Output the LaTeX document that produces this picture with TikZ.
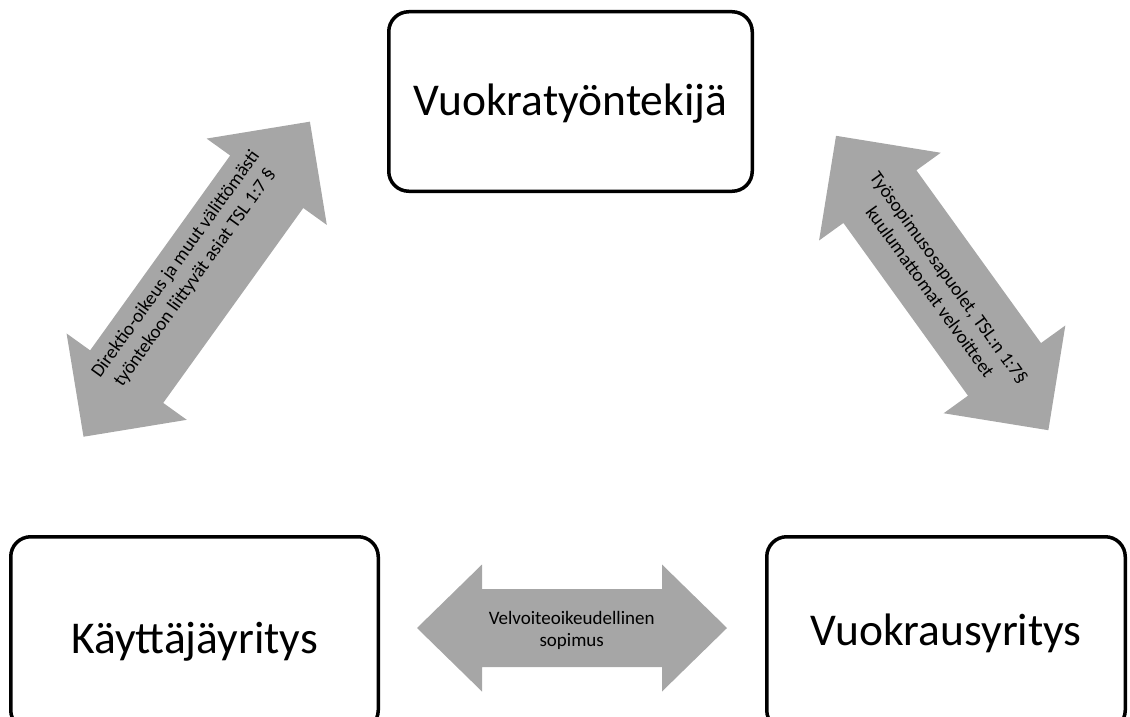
\documentclass[tikz,border=0pt]{standalone}
\usepackage{fontspec}
\setmainfont{Carlito}
\definecolor{arrowgray}{RGB}{166,166,166}
\tikzset{
  box/.style={draw=black, line width=3.5pt, rounded corners=20pt, fill=white, inner sep=0pt, font=\fontsize{45.5}{54}\selectfont, text depth=0pt},
  smalltext/.style={font=\fontsize{19}{22}\selectfont, align=center, inner sep=0pt, text=black},
  diagtext/.style={smalltext, font=\fontsize{19}{23.5}\selectfont},
  blockarrow/.style={fill=arrowgray},
}
\begin{document}
\begin{tikzpicture}[x=1pt,y=-1pt]
\useasboundingbox (0,0) rectangle (1130,717);
\clip (0,0) rectangle (1130,717);

% boxes
\node[box, minimum width=363.5pt, minimum height=179.5pt, text height=27pt] (tyontekija) at (570.5,101.5) {Vuokratyöntekijä};
\node[box, minimum width=367.5pt, minimum height=193.5pt, text height=39pt] (kayttaja) at (194.5,633.5) {Käyttäjäyritys};
\node[box, minimum width=358.5pt, minimum height=193.5pt, text height=23pt] (vuokraus) at (946,633.5) {Vuokrausyritys};

% left diagonal double arrow
\begin{scope}[shift={(196.7,279.2)}, rotate=54.3]
\fill[blockarrow] (-194,0) -- (-120,74) -- (-120,45) -- (120,45) -- (120,74) -- (194,0)
  -- (120,-74) -- (120,-45) -- (-120,-45) -- (-120,-74) -- cycle;
\end{scope}
\node[diagtext, rotate=54.3] (ltext) at (185.5,271.1) {Direktio-oikeus ja muut välittömästi\\työntekoon liittyvät asiat TSL 1:7 §};

% right diagonal double arrow
\begin{scope}[shift={(942.2,283)}, rotate=-54.2]
\fill[blockarrow] (-181.5,0) -- (-106.5,75) -- (-106.5,45) -- (106.5,45) -- (106.5,75) -- (181.5,0)
  -- (106.5,-75) -- (106.5,-45) -- (-106.5,-45) -- (-106.5,-75) -- cycle;
\end{scope}
\node[diagtext, rotate=-54.2] (rtext) at (939.8,284.8) {Työsopimusosapuolet, TSL:n 1:7§\\kuulumattomat velvoitteet};

% bottom horizontal double arrow
\begin{scope}[shift={(572,628)}]
\fill[blockarrow] (-155,0) -- (-90,63.5) -- (-90,39) -- (90,39) -- (90,63.5) -- (155,0)
  -- (90,-63.5) -- (90,-39) -- (-90,-39) -- (-90,-63.5) -- cycle;
\end{scope}
\node[smalltext] (btext) at (571.7,630.5) {Velvoiteoikeudellinen\\sopimus};
\end{tikzpicture}
\end{document}
